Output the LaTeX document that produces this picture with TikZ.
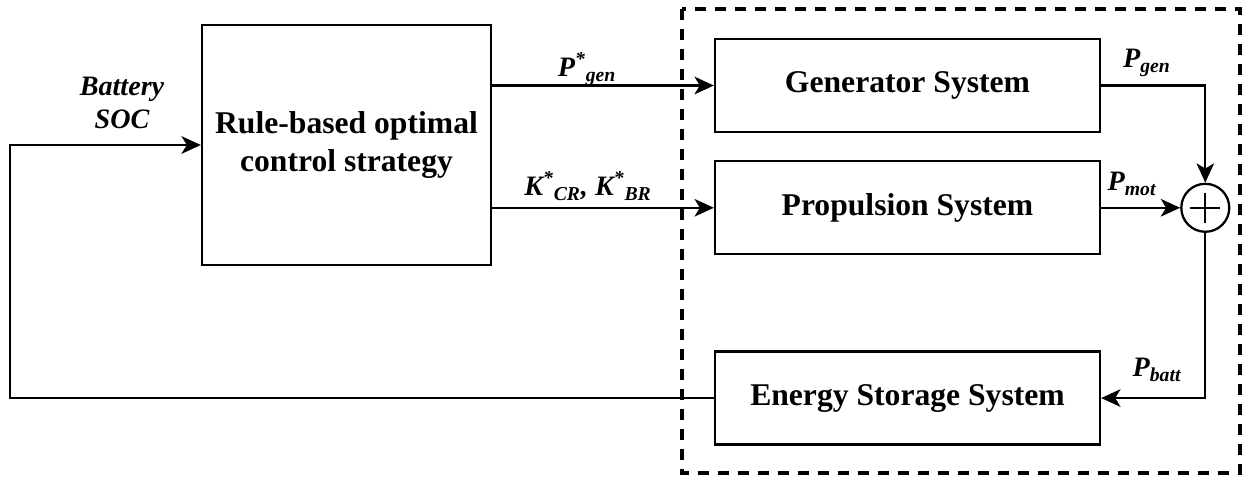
\documentclass[tikz,border=0pt]{standalone}
\usepackage{fontspec}
\setmainfont{Liberation Serif}
\usetikzlibrary{
	arrows.meta,
	positioning
}

\begin{document}
\begin{tikzpicture}[
    node distance=0.54cm and 1.58cm,
    box/.style={rectangle, draw, line width=1.3pt, align=center, inner sep=0pt, font=\fontsize{18}{22}\selectfont\bfseries},
    sysbox/.style={box, minimum width=7.7cm, minimum height=1.86cm},
    lbl/.style={align=center, inner sep=0pt, font=\fontsize{16}{19}\selectfont\bfseries\itshape},
    arrow/.style={line width=1.3pt, -{Stealth[length=11pt, width=10pt, inset=3pt]}},
    sumnode/.style={circle, draw, line width=1.3pt, minimum size=0.96cm, inner sep=0pt,
        path picture={\draw[line width=1.1pt] ([xshift=-0.3cm]path picture bounding box.center) -- ([xshift=0.3cm]path picture bounding box.center)
        ([yshift=-0.3cm]path picture bounding box.center) -- ([yshift=0.3cm]path picture bounding box.center);}},
    sysframe/.style={line width=2pt, dash pattern=on 0.22cm off 0.18cm}
]

\useasboundingbox (0,0) rectangle (24.88,-9.62);

% Nodes
\node[box, minimum width=5.78cm, minimum height=4.8cm] (ctrl) at (6.93,-2.90) {Rule-based optimal\\control strategy};

\node[sysbox] (gen) at (18.15,-1.71) {Generator System};

\node[sysbox, below=of gen] (prop) {Propulsion System};

\node[sysbox, below=1.9cm of prop] (ess) {Energy Storage System};

\node[sumnode, right=of prop] (sum) {};

\coordinate (fbcorner) at (0.2,0);

% Frame of the plant
\draw[sysframe] (13.64,-0.18) rectangle (24.80,-9.46);

% Labels
\node[lbl] (soc) at (2.44,-2.06) {Battery\\SOC};
\node[lbl] (pgenref) at (11.74,-1.38) {P\textsuperscript{*}\textsubscript{gen}};
\node[lbl] (kref) at (11.76,-3.72) {K\textsuperscript{*}\textsubscript{CR}, K\textsuperscript{*}\textsubscript{BR}};
\node[lbl] (pgen) at (22.94,-1.26) {P\textsubscript{gen}};
\node[lbl] (pmot) at (22.64,-3.68) {P\textsubscript{mot}};
\node[lbl] (pbatt) at (23.14,-7.40) {P\textsubscript{batt}};

\draw[arrow] (ctrl.east |- gen.west) -- (gen.west);
\draw[arrow] (ctrl.east |- prop.west) -- (prop.west);
\draw[arrow] (gen.east) -| (sum.north);
\draw[arrow] (prop.east) -- (sum.west);
\draw[arrow] (sum.south) |- (ess.east);
\draw[arrow] (ess.west) -- (ess.west -| fbcorner) |- (ctrl.west);

\end{tikzpicture}
\end{document}
